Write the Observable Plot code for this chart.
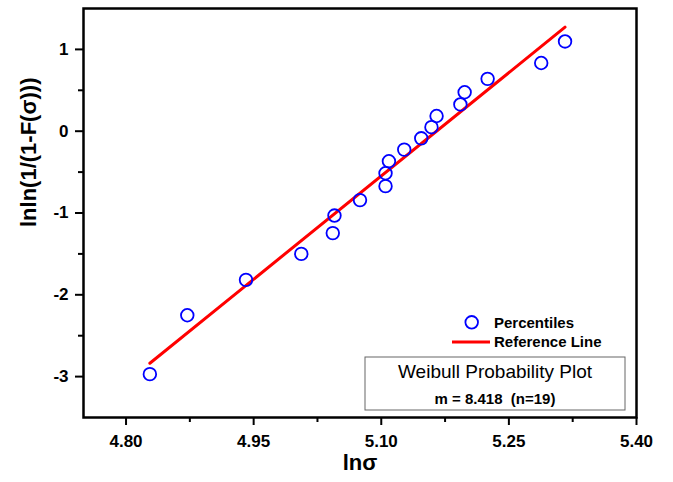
<!DOCTYPE html>
<html><head><meta charset="utf-8">
<script src="https://cdn.jsdelivr.net/npm/d3@7"></script>
<script src="https://cdn.jsdelivr.net/npm/@observablehq/plot@0.6"></script>
<style>body{margin:0;background:#fff}</style>
</head><body><div id="chart"></div>
<script>
// Data
const lnSigma = [4.828, 4.872, 4.941, 5.006, 5.043, 5.045, 5.075, 5.105, 5.105, 5.109, 5.127, 5.147, 5.159, 5.165, 5.193, 5.198, 5.225, 5.288, 5.316];
const lnlnF   = [-2.970, -2.250, -1.817, -1.500, -1.246, -1.031, -0.842, -0.672, -0.514, -0.367, -0.225, -0.087, 0.049, 0.186, 0.327, 0.476, 0.640, 0.834, 1.097];
const refX = [4.828, 5.316];
const refY = [-2.837, 1.272];
const xTicks = [4.80, 4.95, 5.10, 5.25, 5.40];
const xMinor = [4.875, 5.025, 5.175, 5.325];
const yTicks = [-3, -2, -1, 0, 1];
const yMinor = [-2.5, -1.5, -0.5, 0.5];
const xLabel = "lnσ";
const yLabel = "lnln(1/(1-F(σ)))";
const legendItems = ["Percentiles", "Reference Line"];
const boxTitle = "Weibull Probability Plot";
const boxSub = "m = 8.418  (n=19)";

const points = lnSigma.map((x, i) => ({x, y: lnlnF[i]}));
const ref = refX.map((x, i) => ({x, y: refY[i]}));

const W = 673, H = 482, mL = 83, mR = 37, mT = 8, mB = 65;
const font = "Arial, 'Liberation Sans', sans-serif";

const chart = Plot.plot({
  width: W, height: H,
  marginLeft: mL, marginRight: mR, marginTop: mT, marginBottom: mB,
  style: {fontFamily: font, fontSize: "17px", fontWeight: "bold", color: "#000", background: "#fff", overflow: "visible"},
  x: {domain: [4.75, 5.40]},
  y: {domain: [-3.5, 1.5]},
  marks: [
    Plot.axisX({ticks: xMinor, tickSize: 5, strokeWidth: 2, text: null, label: null}),
    Plot.axisX({ticks: xTicks, tickSize: 8, strokeWidth: 2, tickPadding: 9, tickFormat: d => d.toFixed(2), label: null, fontSize: 17}),
    Plot.axisY({ticks: yMinor, tickSize: 5, strokeWidth: 2, text: null, label: null}),
    Plot.axisY({ticks: yTicks, tickSize: 8, strokeWidth: 2, tickPadding: 7, tickFormat: d => String(d), label: null, fontSize: 17}),
    Plot.line(ref, {x: "x", y: "y", stroke: "#ff0000", strokeWidth: 3}),
    Plot.dot(points, {x: "x", y: "y", r: 6.3, stroke: "#0000ff", strokeWidth: 1.8, fill: "none"}),
    Plot.frame({stroke: "#000", strokeWidth: 2.5}),
    Plot.text([xLabel], {frameAnchor: "bottom", dy: 52, fontSize: 22, fontWeight: "bold", fill: "#000"}),
    Plot.text([yLabel], {frameAnchor: "left", rotate: -90, dx: -55, dy: 14, fontSize: 22, fontWeight: "bold", fill: "#000"})
  ]
});
document.getElementById("chart").append(chart);

// Legend and info box (inside the plot frame, bottom-right)
const svg = d3.select(chart);
const g = svg.append("g").attr("font-family", font).attr("text-anchor", "start").attr("fill", "#000");
const right = W - mR, bottom = H - mB;
g.append("circle").attr("cx", right - 164.3).attr("cy", bottom - 94.7).attr("r", 6.3)
  .attr("fill", "none").attr("stroke", "#0000ff").attr("stroke-width", 1.8);
g.append("text").attr("x", right - 142).attr("y", bottom - 94.7).attr("dy", "0.35em").attr("text-anchor", "start")
  .attr("font-size", 15).attr("font-weight", "bold").text(legendItems[0]);
g.append("line").attr("x1", right - 184).attr("x2", right - 146).attr("y1", bottom - 75).attr("y2", bottom - 75)
  .attr("stroke", "#ff0000").attr("stroke-width", 3);
g.append("text").attr("x", right - 142).attr("y", bottom - 75).attr("dy", "0.35em").attr("text-anchor", "start")
  .attr("font-size", 15).attr("font-weight", "bold").text(legendItems[1]);
g.append("rect").attr("x", right - 271).attr("y", bottom - 60).attr("width", 260).attr("height", 53)
  .attr("fill", "#fff").attr("stroke", "#666").attr("stroke-width", 1);
g.append("text").attr("x", right - 141).attr("y", bottom - 39).attr("text-anchor", "middle")
  .attr("font-size", 19).attr("font-weight", "normal").text(boxTitle);
g.append("text").attr("x", right - 141).attr("y", bottom - 13).attr("text-anchor", "middle")
  .attr("font-size", 15).attr("font-weight", "bold").text(boxSub);
</script>
</body></html>
